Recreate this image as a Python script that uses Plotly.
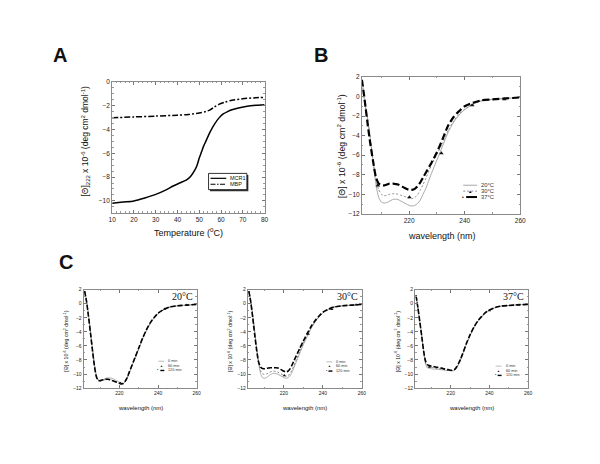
import plotly.graph_objects as go

W, H = 600, 464
def px(x): return x / W
def py(y): return 1 - y / H

# ---------------- data ----------------
# Panel A: thermal melt at 222 nm
temp_mcr1 = [10, 15, 20, 25, 30, 35, 38, 41, 44, 46, 48, 49, 50, 51, 52, 53, 55, 57, 59, 61, 63, 65, 68, 72, 76, 80]
mcr1 = [-10.2, -10.1, -10.0, -9.75, -9.45, -9.05, -8.75, -8.5, -8.25, -7.95, -7.4, -7.0, -6.4, -5.9, -5.4, -5.0,
        -4.2, -3.55, -3.05, -2.7, -2.5, -2.35, -2.2, -2.05, -1.97, -1.92]
temp_mbp = [10, 20, 30, 40, 45, 50, 53, 55, 57, 59, 62, 65, 70, 75, 80]
mbp = [-3.02, -2.95, -2.88, -2.8, -2.75, -2.62, -2.5, -2.35, -2.1, -1.9, -1.7, -1.55, -1.42, -1.35, -1.3]

# Panel B: CD spectra at three temperatures
wl_b = [203, 204, 205, 206, 207, 208, 209, 210, 211, 212, 213, 214, 215, 216, 217, 218, 219, 220, 221, 222,
        223, 224, 225, 226, 228, 230, 232, 234, 236, 238, 240, 243, 246, 250, 255, 260]
b_20 = [1.7, -0.6, -2.2, -4.3, -6.6, -8.9, -10.3, -10.8, -10.9, -10.85, -10.7, -10.55, -10.5, -10.55, -10.7,
        -10.85, -11.0, -11.15, -11.2, -11.15, -10.95, -10.6, -10.0, -9.4, -7.9, -6.5, -5.1, -3.7, -2.65, -1.9,
        -1.35, -0.8, -0.45, -0.3, -0.2, -0.1]
b_30 = [1.7, -0.6, -2.2, -4.2, -6.5, -8.5, -9.5, -10.0, -10.15, -10.1, -10.0, -9.95, -9.95, -10.0, -10.1,
        -10.2, -10.3, -10.4, -10.45, -10.35, -10.05, -9.6, -9.0, -8.4, -7.0, -5.9, -4.8, -3.5, -2.5, -1.8,
        -1.3, -0.8, -0.45, -0.3, -0.2, -0.1]
b_37 = [1.7, -0.4, -2.7, -4.8, -6.6, -8.2, -8.9, -9.05, -9.1, -9.0, -8.9, -8.9, -8.95, -9.0, -9.15, -9.3,
        -9.45, -9.55, -9.55, -9.45, -9.2, -8.8, -8.3, -7.8, -6.8, -5.7, -4.4, -3.0, -2.1, -1.5, -1.0, -0.65,
        -0.4, -0.3, -0.2, -0.1]
b_mark_wl = [208.7, 220.1, 231.6, 242.7, 254.3]
b_mark_30 = [-9.1, -10.3, -5.8, -0.9, -0.3]

# Panel C: CD spectra over time at 20, 30 and 37 C
wl_c = [202, 203, 204, 205, 206, 207, 208, 209, 210, 211, 212, 213, 214, 215, 216, 217, 218, 219, 220, 221,
        222, 223, 224, 225, 226, 228, 230, 232, 234, 236, 238, 240, 243, 246, 250, 255, 260]
c20_0 = [1.8, 0.4, -1.6, -3.9, -6.3, -8.5, -10.1, -10.8, -10.95, -10.9, -10.75, -10.6, -10.55, -10.55, -10.6,
         -10.7, -10.85, -11.0, -11.15, -11.25, -11.3, -11.1, -10.6, -9.9, -9.2, -7.8, -6.4, -5.0, -3.8, -2.8,
         -2.0, -1.4, -0.85, -0.5, -0.3, -0.2, -0.1]
c20_60 = [1.8, 0.4, -1.6, -3.9, -6.3, -8.5, -10.1, -10.85, -11.0, -10.95, -10.85, -10.75, -10.7, -10.75, -10.85,
          -11.0, -11.1, -11.2, -11.3, -11.35, -11.35, -11.1, -10.6, -9.9, -9.2, -7.8, -6.4, -5.0, -3.8, -2.8,
          -2.0, -1.4, -0.85, -0.5, -0.3, -0.2, -0.1]
c20_120 = [1.8, 0.3, -1.8, -4.1, -6.5, -8.7, -10.3, -10.9, -10.95, -10.85, -10.8, -10.75, -10.75, -10.8, -10.9,
           -11.0, -11.1, -11.2, -11.3, -11.4, -11.35, -11.0, -10.5, -9.8, -9.1, -7.7, -6.3, -4.9, -3.7, -2.7,
           -1.95, -1.35, -0.8, -0.45, -0.3, -0.2, -0.1]
c30_0 = [1.8, 0.4, -1.6, -3.9, -6.3, -8.4, -9.9, -10.5, -10.6, -10.5, -10.3, -10.1, -9.95, -9.9, -9.95, -10.05,
         -10.2, -10.35, -10.5, -10.6, -10.55, -10.3, -9.8, -9.2, -8.5, -7.1, -5.8, -4.6, -3.5, -2.6, -1.9, -1.3,
         -0.8, -0.45, -0.3, -0.2, -0.1]
c30_60 = [1.8, 0.4, -1.7, -4.0, -6.3, -8.3, -9.5, -9.95, -10.05, -10.0, -9.85, -9.7, -9.6, -9.6, -9.65, -9.75,
          -9.9, -10.05, -10.2, -10.3, -10.25, -10.0, -9.5, -8.9, -8.2, -6.9, -5.6, -4.5, -3.4, -2.5, -1.85, -1.3,
          -0.8, -0.45, -0.3, -0.2, -0.1]
c30_120 = [1.8, 0.2, -2.0, -4.4, -6.6, -8.3, -9.0, -9.2, -9.25, -9.2, -9.15, -9.1, -9.1, -9.1, -9.1, -9.15,
           -9.3, -9.45, -9.6, -9.7, -9.6, -9.3, -8.8, -8.2, -7.6, -6.4, -5.3, -4.2, -3.2, -2.4, -1.75, -1.2,
           -0.75, -0.45, -0.3, -0.2, -0.1]
c37_0 = [1.2, -0.6, -2.6, -4.7, -6.9, -8.6, -9.15, -9.2, -9.25, -9.3, -9.3, -9.35, -9.35, -9.4, -9.4, -9.45,
         -9.5, -9.5, -9.55, -9.55, -9.45, -9.1, -8.6, -8.0, -7.3, -5.8, -4.5, -3.4, -2.5, -1.85, -1.3, -0.9,
         -0.55, -0.35, -0.25, -0.15, -0.1]
c37_60 = [1.2, -0.6, -2.6, -4.7, -6.9, -8.5, -8.9, -9.0, -9.05, -9.1, -9.15, -9.2, -9.25, -9.3, -9.35, -9.4,
          -9.45, -9.5, -9.5, -9.5, -9.4, -9.05, -8.6, -8.0, -7.3, -5.8, -4.5, -3.4, -2.5, -1.85, -1.3, -0.9,
          -0.55, -0.35, -0.25, -0.15, -0.1]
c37_120 = [1.2, -0.6, -2.6, -4.7, -6.8, -8.2, -8.7, -8.8, -8.9, -8.95, -9.0, -9.05, -9.1, -9.15, -9.2, -9.3,
           -9.35, -9.4, -9.45, -9.45, -9.35, -9.0, -8.5, -7.9, -7.2, -5.7, -4.4, -3.3, -2.45, -1.8, -1.25, -0.9,
           -0.55, -0.35, -0.25, -0.15, -0.1]
c20_mark_wl = [220.5, 243.4, 254.9]
c20_mark = [-11.3, -0.75, -0.2]
c30_mark_wl = [220.2, 232.5, 244.5, 257]
c30_mark = [-10.2, -4.3, -0.8, -0.15]
c37_mark_wl = [209, 240, 255]
c37_mark = [-9.0, -0.95, -0.2]

panel_temps = ["20°C", "30°C", "37°C"]
time_labels = ["0 min", "60 min", "120 min"]
temp_labels = ["20°C", "30°C", "37°C"]

# ---------------- figure ----------------
FONT = "Liberation Sans, Arial, sans-serif"
SERIF = "Liberation Serif, Times New Roman, serif"
fig = go.Figure()

def line(x, y, xa, ya, color, width, dash=None):
    fig.add_trace(go.Scatter(x=x, y=y, xaxis=xa, yaxis=ya, mode="lines", showlegend=False,
                             line=dict(color=color, width=width, dash=dash, shape="spline", smoothing=0.7),
                             hoverinfo="skip"))

def marks(x, y, xa, ya, symbol, size, color="#111"):
    fig.add_trace(go.Scatter(x=x, y=y, xaxis=xa, yaxis=ya, mode="markers", showlegend=False,
                             marker=dict(symbol=symbol, size=size, color=color), hoverinfo="skip"))

# A
line(temp_mcr1, mcr1, "x", "y", "#000", 1.5)
line(temp_mbp, mbp, "x", "y", "#000", 1.5, "6px,2px,2px,2px")
# B
line(wl_b, b_20, "x2", "y2", "#a8a8a8", 1.0)
line(wl_b, b_30, "x2", "y2", "#8a8a8a", 1.0, "2px,2px")
line(wl_b, b_37, "x2", "y2", "#000", 2.2, "7px,3px")
marks(b_mark_wl, b_mark_30, "x2", "y2", "triangle-up", 4)
# C
c_sets = [(c20_0, c20_60, c20_120, c20_mark_wl, c20_mark),
          (c30_0, c30_60, c30_120, c30_mark_wl, c30_mark),
          (c37_0, c37_60, c37_120, c37_mark_wl, c37_mark)]
for i, (s0, s60, s120, mw, mv) in enumerate(c_sets):
    xa, ya = "x%d" % (i + 3), "y%d" % (i + 3)
    line(wl_c, s0, xa, ya, "#aaaaaa", 1.0)
    line(wl_c, s60, xa, ya, "#666", 0.8, "2px,2px")
    line(wl_c, s120, xa, ya, "#000", 1.6, "5px,2px")
    marks(mw, mv, xa, ya, "triangle-up", 3)

def axis(dom, rng, tick0, dtick, mdtick, fs, anchor):
    return dict(domain=dom, range=rng, tick0=tick0, dtick=dtick, ticks="inside", ticklen=3, tickwidth=0.8,
                tickcolor="#777", showline=True, mirror="ticks", linecolor="#8a8a8a", linewidth=1,
                showgrid=False, zeroline=False, anchor=anchor,
                tickfont=dict(family=FONT, size=fs, color="#222"),
                minor=dict(ticks="inside", ticklen=1.5, tickcolor="#999", dtick=mdtick, tick0=tick0, showgrid=False))

layout = dict(width=W, height=H, margin=dict(l=0, r=0, t=0, b=0), paper_bgcolor="white",
              plot_bgcolor="white", showlegend=False)
layout["xaxis"] = axis([px(110), px(265)], [10, 80], 10, 10, 2, 6.5, "y")
layout["yaxis"] = axis([py(212), py(79)], [-11, 0], 0, 2, 0.5, 6.5, "x")
layout["xaxis2"] = axis([px(364), px(525)], [203, 260], 220, 20, 10, 6.5, "y2")
layout["yaxis2"] = axis([py(213), py(74)], [-12, 2], 2, 2, 1, 6.5, "x2")
c_x = [(81, 196), (248, 364), (418, 533)]
for i, (l, r) in enumerate(c_x):
    n = i + 3
    layout["xaxis%d" % n] = axis([px(l), px(r)], [201.5, 260], 220, 20, 10, 5, "y%d" % n)
    layout["yaxis%d" % n] = axis([py(390), py(290)], [-12, 2], 2, 2, 1, 5, "x%d" % n)
fig.update_layout(**layout)

ann = []
def text(x, y, s, size, family=FONT, angle=0, xanchor="center", bold=False, color="#111"):
    ann.append(dict(x=px(x), y=py(y), xref="paper", yref="paper", text=("<b>%s</b>" % s) if bold else s,
                    showarrow=False, textangle=angle, xanchor=xanchor, yanchor="middle",
                    font=dict(family=family, size=size, color=color)))

# panel letters
text(57, 52, "A", 20, bold=True)
text(322, 52, "B", 20, bold=True)
text(63, 262, "C", 20, bold=True)

ytitle = "[Θ] x 10<sup>-6</sup> (deg cm<sup>2</sup> dmol<sup>-1</sup>)"
text(188, 231, "Temperature (<sup>o</sup>C)", 9)
text(83, 140, "[Θ]<sub>222</sub> x 10<sup>-6</sup> (deg cm<sup>2</sup> dmol<sup>-1</sup>)", 8.5, angle=-90)
text(445, 236, "wavelength (nm)", 9)
text(343, 144, ytitle, 8.8, angle=-90)
for i, (l, r) in enumerate(c_x):
    text((l + r) / 2, 410, "wavelength (nm)", 6)
    text(l - 18, 342, ytitle, 5.2, angle=-90)
    text(r - 2, 297, panel_temps[i], 10, family=SERIF, xanchor="right")

shapes = []
def seg(x0, x1, y, color, width, dash="solid"):
    shapes.append(dict(type="line", xref="paper", yref="paper", x0=px(x0), x1=px(x1), y0=py(y), y1=py(y),
                       line=dict(color=color, width=width, dash=dash)))

# Legend A
shapes.append(dict(type="rect", xref="paper", yref="paper", x0=px(209.5), x1=px(248.5), y0=py(190), y1=py(173.5),
                   line=dict(width=0), fillcolor="#333"))
shapes.append(dict(type="rect", xref="paper", yref="paper", x0=px(208), x1=px(247), y0=py(188.5), y1=py(172),
                   line=dict(color="#000", width=0.8), fillcolor="white"))
seg(210, 226, 177, "#000", 1.2)
seg(210, 226, 183, "#000", 1.2, "5px,1.5px,1.5px,1.5px")
text(228, 177, "MCR1", 5.5, xanchor="left")
text(228, 183, "MBP", 5.5, xanchor="left")

# Legend B
seg(467, 481, 184, "#a8a8a8", 1)
seg(467, 481, 190, "#8a8a8a", 1, "2px,2px")
seg(470, 481, 196, "#000", 2, "solid")
text(474, 190, "▲", 4.5, xanchor="center")
text(467, 196, "•", 5, xanchor="center")
for k, lab in enumerate(temp_labels):
    text(483, 184 + 6 * k, lab, 5.8, xanchor="left", color="#333")

# Legend C
leg_c = [(157, 163, 362.7), (328, 334, 363.3), (500, 506, 367.7)]
for (l0, l1, y0) in leg_c:
    seg(l0, l1, y0, "#aaaaaa", 0.8)
    text((l0 + l1) / 2, y0 + 4.7, "▲", 3)
    seg(l0 + 2, l1, y0 + 9.4, "#000", 1.4)
    text(l0, y0 + 9.4, "•", 3.5)
    for k, lab in enumerate(time_labels):
        text(l1 + 2, y0 + 4.7 * k, lab, 3.8, xanchor="left", color="#333")

fig.update_layout(annotations=ann, shapes=shapes)
fig.write_html("out.html", config={"displayModeBar": False},
               post_script="document.body.style.margin='0';document.body.style.overflow='hidden';")
